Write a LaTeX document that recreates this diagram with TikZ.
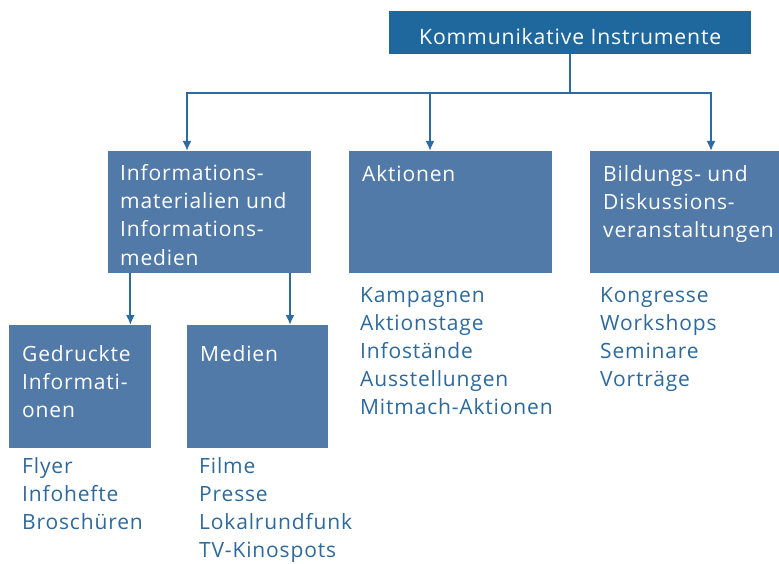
\documentclass[tikz,border=0pt]{standalone}
\usepackage{fontspec}
\setmainfont{Open Sans}[LetterSpace=4]
\usetikzlibrary{arrows.meta,positioning,calc}

\definecolor{kopfblau}{RGB}{31,104,158}
\definecolor{kastenblau}{RGB}{82,122,168}
\definecolor{linienblau}{RGB}{42,108,163}
\definecolor{listenblau}{RGB}{45,105,155}

\begin{document}
\begin{tikzpicture}[x=1pt,y=-1pt,>={Latex[length=10pt,width=9pt]},
    kasten/.style={fill=kastenblau,inner sep=0pt,anchor=north west},
    titel/.style={text=white,align=left,inner sep=0pt,anchor=north west,
      font=\fontsize{21}{28.3}\selectfont},
    liste/.style={text=listenblau,align=left,inner sep=0pt,anchor=north west,
      font=\fontsize{21}{28}\selectfont},
    linie/.style={linienblau,line width=2pt}]
  \useasboundingbox (0,0) rectangle (779,564);

  % Kopf
  \node[fill=kopfblau,text=white,anchor=north west,minimum width=362,minimum height=43,
    text height=23pt,text depth=0pt,inner sep=0pt,font=\fontsize{21.2}{26}\selectfont]
    (ki) at (389,11) {Kommunikative Instrumente};

  % obere Reihe
  \node[kasten,minimum width=203,minimum height=122] (info) at (108,151) {};
  \node[kasten,minimum width=203,minimum height=122] (akt) at (349,151) {};
  \node[kasten,minimum width=189,minimum height=122] (bild) at (590,151) {};
  \node[titel] (info-t) at ($(info.north west)+(12,13)$)
    {Informations-\\materialien und\\Informations-\\medien};
  \node[titel] (akt-t) at ($(akt.north west)+(13,14)$) {Aktionen};
  \node[titel] (bild-t) at ($(bild.north west)+(13,14)$)
    {Bildungs- und\\Diskussions-\\veranstaltungen};
  \node[liste] (akt-l) at ($(akt.south west)+(11,14)$)
    {Kampagnen\\Aktionstage\\Infostände\\Ausstellungen\\Mitmach-Aktionen};
  \node[liste] (bild-l) at ($(bild.south west)+(10,14)$)
    {Kongresse\\Workshops\\Seminare\\Vorträge};

  % untere Reihe
  \node[kasten,minimum width=142,minimum height=123] (gedr) at (9,325) {};
  \node[kasten,minimum width=141,minimum height=123] (med) at (187,325) {};
  \node[titel] (gedr-t) at ($(gedr.north west)+(13,20)$) {Gedruckte\\Informati-\\onen};
  \node[titel] (med-t) at ($(med.north west)+(13,20)$) {Medien};
  \node[liste] (gedr-l) at ($(gedr.south west)+(13,9)$) {Flyer\\Infohefte\\Broschüren};
  \node[liste] (med-l) at ($(med.south west)+(12,9)$)
    {Filme\\Presse\\Lokalrundfunk\\TV-Kinospots};

  % Verbindungen
  \coordinate (bus) at ($(ki.south)+(0,39)$);
  \coordinate (info-in) at ($(info.north west)+(79,0)$);
  \coordinate (akt-in) at ($(akt.north west)+(81,0)$);
  \coordinate (bild-in) at ($(bild.north west)+(121,0)$);
  \coordinate (gedr-in) at ($(gedr.north east)+(-21,0)$);
  \coordinate (med-in) at ($(med.north west)+(103,0)$);
  \draw[linie] (ki.south) -- (bus);
  \draw[linie,->] (bus) -| (info-in);
  \draw[linie,->] (bus) -| (bild-in);
  \draw[linie,->] (akt-in |- bus) -- (akt-in);
  \draw[linie,->] (info.south -| gedr-in) -- (gedr-in);
  \draw[linie,->] (info.south -| med-in) -- (med-in);
\end{tikzpicture}
\end{document}
